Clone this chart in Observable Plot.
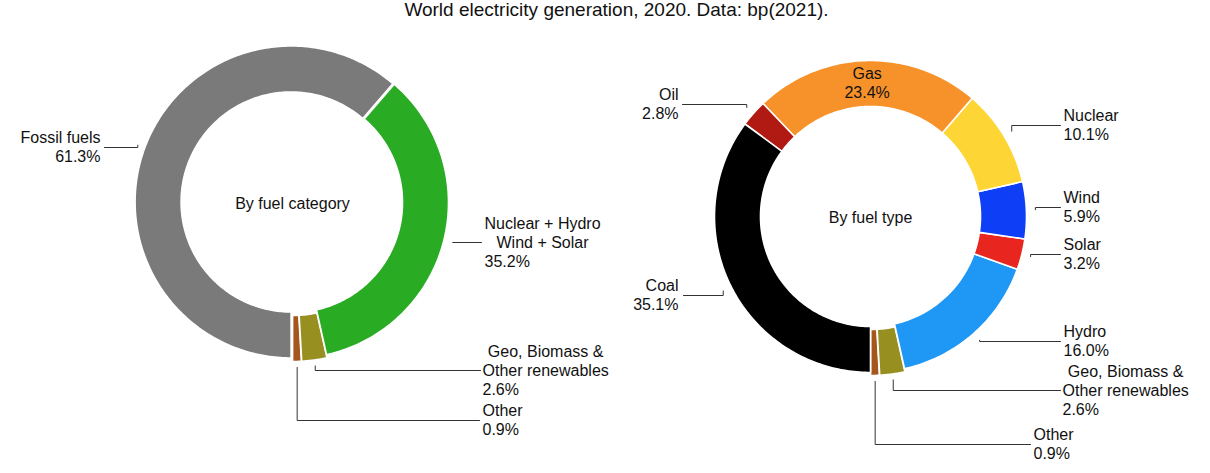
<!DOCTYPE html>
<html>
<head>
<meta charset="utf-8">
<script src="https://cdn.jsdelivr.net/npm/d3@7"></script>
<script src="https://cdn.jsdelivr.net/npm/@observablehq/plot@0.6"></script>
<style>
  html, body { margin: 0; padding: 0; background: #fff; }
  #chart svg { display: block; }
</style>
</head>
<body>
<div id="chart"></div>
<script>
// ---------------- data ----------------
const titleText = "World electricity generation, 2020. Data: bp(2021).";

const categoryTitle = "By fuel category";
const categoryNames = ["Other", "Geo, Biomass &\nOther renewables", "Nuclear + Hydro\nWind + Solar", "Fossil fuels"];
const categoryShares = [0.9, 2.6, 35.2, 61.3];

const typeTitle = "By fuel type";
const typeNames = ["Other", "Geo, Biomass &\nOther renewables", "Hydro", "Solar", "Wind", "Nuclear", "Gas", "Oil", "Coal"];
const typeShares = [0.9, 2.6, 16.0, 3.2, 5.9, 10.1, 23.4, 2.8, 35.1];

// ---------------- styles ----------------
const categoryColors = ["#a5561c", "#978f20", "#2aab24", "#7a7a7a"];
const typeColors = ["#a5561c", "#978f20", "#1f97f5", "#e8261f", "#0e3ff6", "#fdd535", "#f7922b", "#b01a12", "#000000"];

const FONT = '"Liberation Sans", Arial, Helvetica, sans-serif';
const FS = 16, LH = 19;

// ---------------- layout ----------------
const W = 1210, H = 473;
const categoryLayout = {
  cx: 292, cy: 202, rOuter: 156, rInner: 110, rLink: 165, explode: [3, 3, 0, 1.5],
  labels: [
    {side: "right", lineX: 479, textX: 482, ty: 420, center: 0},
    {side: "right", lineX: 480, textX: 482, ty: 370, center: 2},
    {side: "right", lineX: 481, textX: 484, ty: 242, center: 2},
    {side: "left",  lineX: 104, textX: 100, ty: 147, center: 0}
  ]
};
const typeLayout = {
  cx: 870, cy: 216, rOuter: 156, rInner: 110, rLink: 165, explode: [3, 3, 0, 0, 0, 0, 0, 0, 0],
  labels: [
    {side: "right", lineX: 1030, textX: 1033, ty: 444, center: 0},
    {side: "right", lineX: 1060, textX: 1062, ty: 390, center: 2},
    {side: "right", lineX: 1060, textX: 1063, ty: 341, center: 0},
    {side: "right", lineX: 1060, textX: 1063, ty: 254, center: 0},
    {side: "right", lineX: 1060, textX: 1063, ty: 207, center: 0},
    {side: "right", lineX: 1060, textX: 1063, ty: 125, center: 0},
    {side: "inside"},
    {side: "left",  lineX: 682, textX: 678, ty: 104, center: 0},
    {side: "left",  lineX: 683, textX: 678, ty: 295, center: 0}
  ]
};

// ---------------- build ----------------
const ctx = document.createElement("canvas").getContext("2d");
ctx.font = `${FS}px ${FONT}`;
const textWidth = s => ctx.measureText(s).width;

const sliceRows = [], linkRows = [];
const textStart = [], textEnd = [], textMiddle = [];
const centerTitles = [];

function build(key, names, values, colors, L) {
  const arcs = d3.pie().sort(null).value(d => d)(values);
  const pt = (cx, cy, a, r) => [cx + r * Math.sin(a), cy + r * Math.cos(a)];
  arcs.forEach((arc, i) => {
    const a0 = arc.startAngle, a1 = arc.endAngle, mid = (a0 + a1) / 2;
    const ex = L.explode[i] || 0;
    const ox = L.cx + ex * Math.sin(mid), oy = L.cy + ex * Math.cos(mid);
    const n = Math.max(2, Math.ceil((a1 - a0) / (Math.PI / 180)));
    const id = key + i;
    for (let k = 0; k <= n; k++) {
      const [x, y] = pt(ox, oy, a0 + (a1 - a0) * k / n, L.rOuter);
      sliceRows.push({id, x, y, color: colors[i]});
    }
    for (let k = n; k >= 0; k--) {
      const [x, y] = pt(ox, oy, a0 + (a1 - a0) * k / n, L.rInner);
      sliceRows.push({id, x, y, color: colors[i]});
    }
    // labels
    const lab = L.labels[i];
    const lines = names[i].split("\n").concat([values[i].toFixed(1) + "%"]);
    if (lab.side === "inside") {
      const [tx, ty] = pt(L.cx, L.cy, mid, (L.rOuter + L.rInner) / 2);
      lines.forEach((s, j) => textMiddle.push({x: tx, y: ty + (j - (lines.length - 1) / 2) * LH, s}));
      return;
    }
    const [px, py] = pt(L.cx, L.cy, mid, L.rLink);
    const lid = key + "link" + i;
    linkRows.push({id: lid, x: px, y: py}, {id: lid, x: px, y: lab.ty}, {id: lid, x: lab.lineX, y: lab.ty});
    const cw = lab.center ? d3.max(lines.slice(0, lab.center), textWidth) : 0;
    lines.forEach((s, j) => {
      const y = lab.ty + (j - (lines.length - 1) / 2) * LH;
      if (lab.side === "left") textEnd.push({x: lab.textX, y, s});
      else if (j < lab.center) textMiddle.push({x: lab.textX + cw / 2, y, s});
      else textStart.push({x: lab.textX, y, s});
    });
  });
  centerTitles.push({x: L.cx, y: L.cy + 1, s: key === "cat" ? categoryTitle : typeTitle});
}

build("cat", categoryNames, categoryShares, categoryColors, categoryLayout);
build("type", typeNames, typeShares, typeColors, typeLayout);

const textOpts = {x: "x", y: "y", text: "s", fontSize: FS, fontFamily: FONT, fill: "#111", lineAnchor: "middle"};

const chart = Plot.plot({
  width: W,
  height: H,
  margin: 0,
  x: {domain: [0, W], range: [0, W], axis: null},
  y: {domain: [0, H], range: [0, H], axis: null},
  color: {type: "identity"},
  style: {fontFamily: FONT, background: "#fff"},
  marks: [
    Plot.line(sliceRows, {x: "x", y: "y", z: "id", fill: "color", stroke: "white", strokeWidth: 1.6, curve: "linear-closed"}),
    Plot.line(linkRows, {x: "x", y: "y", z: "id", stroke: "#333", strokeWidth: 1, curve: "linear"}),
    Plot.text(textStart, {...textOpts, textAnchor: "start"}),
    Plot.text(textEnd, {...textOpts, textAnchor: "end"}),
    Plot.text(textMiddle, {...textOpts, textAnchor: "middle"}),
    Plot.text(centerTitles, {...textOpts, textAnchor: "middle"}),
    Plot.text([titleText], {x: () => 616, y: () => 9.5, text: d => d, fontSize: 19, fontFamily: FONT, fill: "#111", textAnchor: "middle", lineAnchor: "middle"})
  ]
});
document.getElementById("chart").appendChild(chart);
</script>
</body>
</html>
